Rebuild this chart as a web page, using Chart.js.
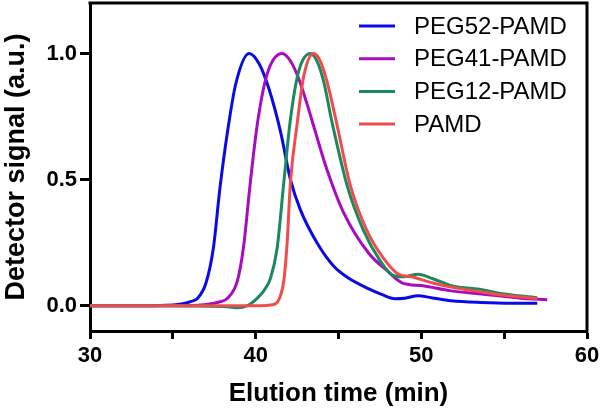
<!DOCTYPE html>
<html>
<head>
<meta charset="utf-8">
<script src="https://cdn.jsdelivr.net/npm/chart.js@4.4.0/dist/chart.umd.min.js"></script>
<style>
  html, body { margin: 0; padding: 0; background: #fff; }
  #wrap { width: 600px; height: 409px; }
</style>
</head>
<body>
<div id="wrap"><canvas id="chart" width="600" height="409"></canvas></div>
<script>
// series labels
const nombres = ["PEG52-PAMD", "PEG41-PAMD", "PEG12-PAMD", "PAMD"];
const colores = ["#0a0ae6", "#a80cc0", "#1a8a5e", "#f04c4c"];

// PEG52-PAMD
const peg52X = [30, 33, 35, 35.6, 36.0, 36.5, 37.0, 37.45, 37.85, 38.3, 38.8, 39.6, 40.2, 40.8, 41.5, 42.1, 42.7, 43.7, 44.7, 45.6, 46.8, 47.6, 48.4, 49.0, 49.8, 50.6, 51.8, 53.6, 55.5, 57.0];
const peg52Y = [0, 0, 0.003, 0.008, 0.015, 0.03, 0.09, 0.23, 0.47, 0.69, 0.88, 1.0, 0.96, 0.86, 0.69, 0.5, 0.38, 0.25, 0.158, 0.11, 0.068, 0.045, 0.028, 0.03, 0.04, 0.032, 0.02, 0.013, 0.01, 0.01];

// PEG41-PAMD
const peg41X = [30, 35, 36.5, 37.3, 37.8, 38.3, 38.9, 39.26, 39.68, 40.1, 40.7, 41.6, 42.1, 42.6, 43.1, 43.6, 44.3, 45.3, 46.8, 48.0, 48.8, 50.1, 51.8, 53.6, 54.6, 56.0, 57.6];
const peg41Y = [0, 0, 0.002, 0.008, 0.015, 0.03, 0.1, 0.23, 0.49, 0.72, 0.92, 1.0, 0.97, 0.9, 0.8, 0.69, 0.54, 0.37, 0.21, 0.135, 0.092, 0.079, 0.059, 0.047, 0.04, 0.03, 0.024];

// PEG12-PAMD
const peg12X = [30, 35, 38.3, 38.9, 39.5, 40.1, 40.5, 40.9, 41.3, 41.7, 42.1, 42.6, 43.3, 43.7, 44.1, 44.6, 45.55, 46.5, 47.5, 48.3, 48.9, 49.8, 50.7, 51.8, 52.6, 53.6, 54.6, 57.0];
const peg12Y = [0, 0, -0.004, -0.008, 0.0, 0.03, 0.06, 0.11, 0.23, 0.49, 0.74, 0.93, 1.0, 0.97, 0.89, 0.73, 0.47, 0.3, 0.18, 0.12, 0.115, 0.125, 0.107, 0.08, 0.071, 0.065, 0.051, 0.032];

// PAMD
const pamdX = [30, 35, 40, 41.0, 41.3, 41.5, 41.7, 41.9, 42.1, 42.5, 42.9, 43.5, 43.9, 44.3, 44.9, 45.7, 46.7, 47.7, 48.6, 49.4, 50.7, 51.8, 53.6, 54.6, 57.0];
const pamdY = [0, 0, 0, 0.004, 0.014, 0.04, 0.1, 0.25, 0.49, 0.72, 0.91, 1.0, 0.97, 0.89, 0.72, 0.48, 0.3, 0.19, 0.126, 0.115, 0.09, 0.074, 0.055, 0.045, 0.028];

// ticks
const ticksX = [30, 35, 40, 45, 50, 55, 60];
const etiquetasX = [30, 40, 50, 60];
const ticksY = [0, 0.5, 1.0];

const fuente = "'Liberation Sans', Arial, sans-serif";

function puntos(xs, ys) {
  return xs.map((x, i) => ({ x: x, y: ys[i] }));
}

const series = [
  puntos(peg52X, peg52Y),
  puntos(peg41X, peg41Y),
  puntos(peg12X, peg12Y),
  puntos(pamdX, pamdY)
];

const data = {
  datasets: series.map((s, i) => ({
    label: nombres[i],
    data: s,
    borderColor: colores[i],
    backgroundColor: colores[i],
    borderWidth: 3,
    pointRadius: 0,
    cubicInterpolationMode: "monotone",
    order: 3 - i
  }))
};

// sin padding extra de las etiquetas
function sinPadding(s) {
  s.paddingTop = 0;
  s.paddingBottom = 0;
  s.paddingLeft = 0;
  s.paddingRight = 0;
}

// caja de arriba y derecha + leyenda dentro del area
const marco = {
  id: "marco",
  afterDraw(chart) {
    const ctx = chart.ctx;
    const a = chart.chartArea;
    ctx.save();
    ctx.strokeStyle = "#000";
    ctx.lineWidth = 3;
    ctx.beginPath();
    ctx.moveTo(a.left - 1.5, a.top);
    ctx.lineTo(a.right, a.top);
    ctx.lineTo(a.right, a.bottom + 1.5);
    ctx.stroke();

    ctx.font = "24px " + fuente;
    ctx.textBaseline = "middle";
    ctx.textAlign = "left";
    chart.data.datasets.forEach((ds, i) => {
      const y = 26 + i * 32.7;
      ctx.strokeStyle = ds.borderColor;
      ctx.lineWidth = 3;
      ctx.beginPath();
      ctx.moveTo(359, y);
      ctx.lineTo(395, y);
      ctx.stroke();
      ctx.fillStyle = "#000";
      ctx.fillText(ds.label, 414, y + 1);
    });
    ctx.restore();
  }
};

const config = {
  type: "line",
  data: data,
  options: {
    responsive: false,
    animation: false,
    layout: { padding: { top: 3, right: 13, left: 0, bottom: 0 } },
    plugins: {
      legend: { display: false },
      tooltip: { enabled: false }
    },
    scales: {
      x: {
        type: "linear",
        min: 30,
        max: 60,
        afterBuildTicks: (s) => { s.ticks = ticksX.map(v => ({ value: v })); },
        afterFit: (s) => { s.height = 78; sinPadding(s); },
        ticks: {
          color: "#000",
          font: { family: fuente, size: 22, weight: "bold" },
          padding: 4,
          maxRotation: 0,
          autoSkip: false,
          callback: (v) => etiquetasX.includes(v) ? String(v) : ""
        },
        grid: { drawOnChartArea: false, tickLength: 8, tickWidth: 3, tickColor: "#000" },
        border: { color: "#000", width: 3 },
        title: {
          display: true,
          text: "Elution time (min)",
          color: "#000",
          font: { family: fuente, size: 26, weight: "bold", lineHeight: 1.2 },
          padding: 0
        }
      },
      y: {
        type: "linear",
        min: -0.1,
        max: 1.2,
        afterBuildTicks: (s) => { s.ticks = ticksY.map(v => ({ value: v })); },
        afterFit: (s) => { s.width = 90; sinPadding(s); },
        ticks: {
          color: "#000",
          font: { family: fuente, size: 22, weight: "bold" },
          padding: 3,
          callback: (v) => v.toFixed(1)
        },
        grid: { drawOnChartArea: false, tickLength: 10, tickWidth: 3, tickColor: "#000" },
        border: { color: "#000", width: 3 },
        title: {
          display: true,
          text: "Detector signal (a.u.)",
          color: "#000",
          font: { family: fuente, size: 27, weight: "bold", lineHeight: 1.2 },
          padding: 0
        }
      }
    }
  },
  plugins: [marco]
};

const canvas = document.getElementById("chart");
const chart = new Chart(canvas, config);
</script>
</body>
</html>
